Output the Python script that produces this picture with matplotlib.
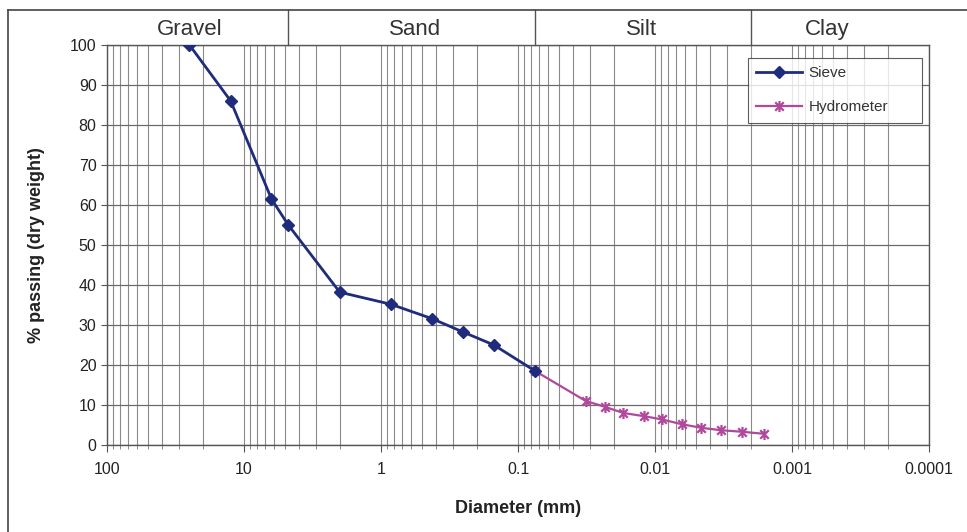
import numpy as np
import matplotlib
matplotlib.use("Agg")
import matplotlib.pyplot as plt
from matplotlib.path import Path
from matplotlib.lines import Line2D
from matplotlib.ticker import LogLocator, NullFormatter
import matplotlib.transforms as mtransforms

plt.rcParams["font.family"] = ["Liberation Sans", "DejaVu Sans"]

# sieve analysis
sieve_d = [25, 12.5, 6.3, 4.75, 2.0, 0.85, 0.425, 0.25, 0.15, 0.075]
sieve_p = [100, 86, 61.5, 55, 38.2, 35.2, 31.6, 28.2, 25, 18.5]

# hydrometer analysis
hydro_d = [0.075, 0.032, 0.023, 0.017, 0.012, 0.0089, 0.0064, 0.0046, 0.0033, 0.0023, 0.0016]
hydro_p = [18.5, 11.0, 9.5, 8.0, 7.2, 6.4, 5.2, 4.3, 3.7, 3.3, 2.8]

# soil classes (boundaries and label positions in mm)
band_edges = [4.75, 0.075, 0.002]
band_names = ["Gravel", "Sand", "Silt", "Clay"]
band_centers = [25, 0.56, 0.0125, 0.00055]

x_ticks = [100, 10, 1, 0.1, 0.01, 0.001, 0.0001]
x_ticklabels = ["100", "10", "1", "0.1", "0.01", "0.001", "0.0001"]
y_ticks = list(range(0, 101, 10))

navy = "#1F2C7C"
pink = "#B0489C"

star = Path([(-1, -1), (1, 1), (-1, 1), (1, -1), (0, -1.3), (0, 1.3)],
            [Path.MOVETO, Path.LINETO, Path.MOVETO, Path.LINETO, Path.MOVETO, Path.LINETO])

fig = plt.figure(figsize=(9.67, 5.32), dpi=100)
ax = fig.add_axes([107 / 967, 87 / 532, 822 / 967, 400 / 532])

ax.plot(hydro_d, hydro_p, color=pink, lw=1.6, marker=star, ms=8,
        mec=pink, mfc="none", mew=1.6, label="Hydrometer", zorder=3)
ax.plot(sieve_d, sieve_p, color=navy, lw=2, marker="D", ms=6.5,
        mec=navy, mfc=navy, label="Sieve", zorder=4)

ax.set_xscale("log")
ax.set_xlim(100, 0.0001)
ax.set_ylim(0, 100)
ax.set_xticks(x_ticks)
ax.set_xticklabels(x_ticklabels, fontsize=11.5, color="#222222")
ax.xaxis.set_minor_locator(LogLocator(base=10, subs=np.arange(2, 10), numticks=20))
ax.xaxis.set_minor_formatter(NullFormatter())
ax.set_yticks(y_ticks)
ax.tick_params(axis="y", labelsize=11.5, labelcolor="#222222", length=4, color="#555555")
ax.tick_params(axis="x", which="major", length=5, color="#555555", pad=7)
ax.tick_params(axis="x", which="minor", length=3, color="#777777")

ax.grid(which="both", axis="x", color="#8a8a8a", lw=0.8)
ax.grid(which="major", axis="y", color="#6a6a6a", lw=0.9)
ax.set_axisbelow(True)
for sp in ax.spines.values():
    sp.set_color("#555555")
    sp.set_linewidth(1)

ax.set_xlabel("Diameter (mm)", fontsize=13, fontweight="bold", color="#222222", labelpad=17)
ax.set_ylabel("% passing (dry weight)", fontsize=13, fontweight="bold", color="#222222", labelpad=18)

h, l = ax.get_legend_handles_labels()
leg = ax.legend(h[::-1], l[::-1], loc="upper left", mode="expand",
                bbox_to_anchor=(0.7798, 0.5, 0.2117, 0.4675),
                borderaxespad=0, fontsize=11, frameon=True, fancybox=False,
                edgecolor="#333333", borderpad=0.55, labelspacing=1.3,
                handlelength=3.0, handletextpad=0.4)
leg.get_frame().set_linewidth(0.8)
for t in leg.get_texts():
    t.set_color("#333333")

# classification band above the plot
trans = mtransforms.blended_transform_factory(ax.transData, ax.transAxes)
for b in band_edges:
    ax.plot([b, b], [1.0, 1.0875], transform=trans, color="#555555", lw=1, clip_on=False)
for name, c in zip(band_names, band_centers):
    ax.text(c, 1.038, name, transform=trans, ha="center", va="center",
            fontsize=16, color="#333333", clip_on=False)

fig.add_artist(Line2D([8 / 967, 1], [522 / 532, 522 / 532], transform=fig.transFigure,
                      color="#444444", lw=1.2))
fig.add_artist(Line2D([8 / 967, 8 / 967], [0, 522 / 532], transform=fig.transFigure,
                      color="#444444", lw=1.2))

fig.savefig("out.png", dpi=100)
